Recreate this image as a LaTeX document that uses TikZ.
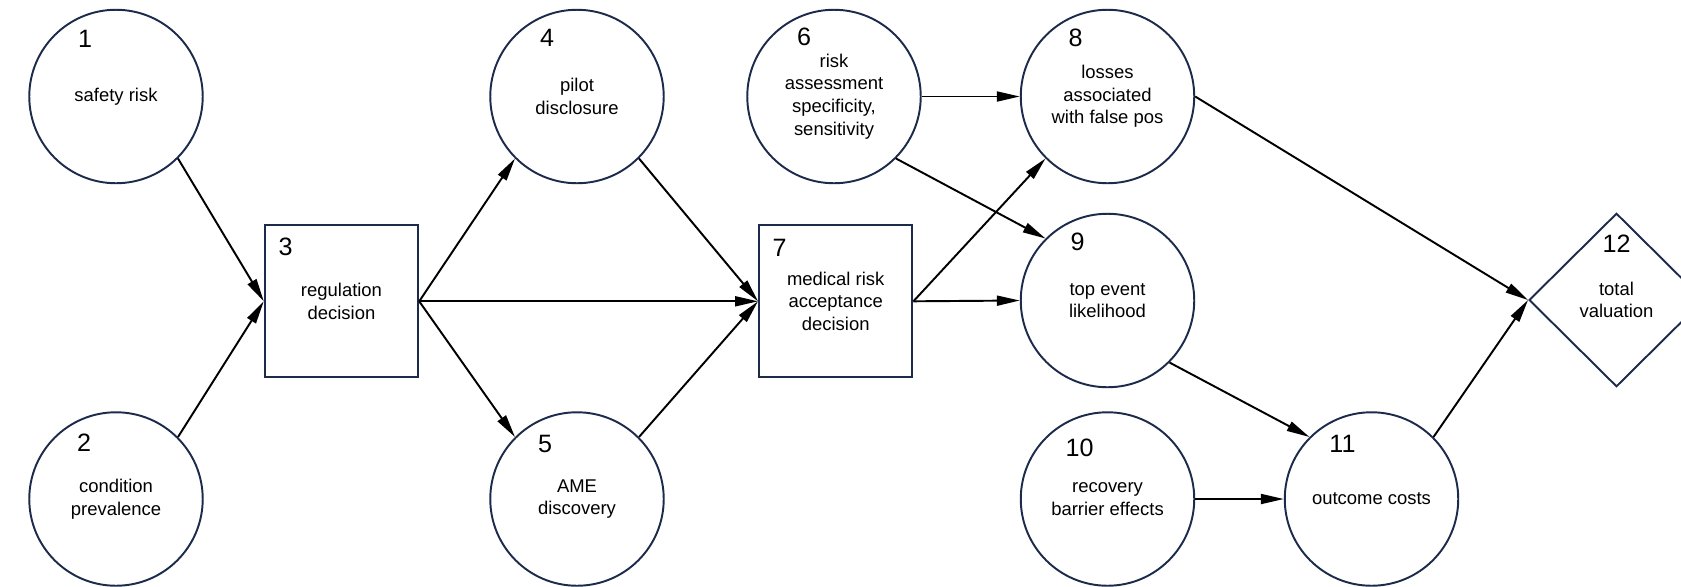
\documentclass[tikz,border=0pt]{standalone}
\usepackage{fontspec}
\setmainfont{Liberation Sans}
\usepackage{xcolor}
\usetikzlibrary{arrows.meta,calc,shapes.geometric}
\definecolor{idNavy}{HTML}{1C2B4B}
\newcommand{\txtfont}{\fontsize{10.5}{12.9}\selectfont}
\newcommand{\numfont}{\fontsize{14.3}{17}\selectfont}

\begin{document}
\begin{tikzpicture}[
  x=0.02cm, y=-0.02cm,
  chance/.style={
    circle, draw=idNavy, line width=1.1pt,
    minimum size=3.47cm, inner sep=0pt, align=center, font=\txtfont
  },
  decision/.style={
    rectangle, draw=idNavy, line width=1.1pt,
    minimum width=3.07cm, minimum height=3.04cm, inner sep=0pt,
    align=center, font=\txtfont
  },
  valuenode/.style={
    diamond, draw=idNavy, line width=1.1pt,
    minimum width=3.5cm, minimum height=3.47cm, inner sep=0pt,
    align=center, font=\txtfont
  },
  num/.style={font=\numfont, inner sep=0pt},
  infl/.style={-{Triangle[length=4.6mm,width=2mm]}, line width=1.1pt}
]
\useasboundingbox (0,0) rectangle (1681,586);

% ---- nodes ----------------------------------------------------------------
\node[chance]    (safety)     at (116,96.5)    {safety risk};
\node[chance]    (prevalence) at (116,499)     {condition\\prevalence};
\node[decision]  (regulation) at (341.5,301.3) {regulation\\decision};
\node[chance]    (disclosure) at (577,96.5)    {pilot\\disclosure};
\node[chance]    (discovery)  at (577,499)     {AME\\discovery};
\node[chance]    (assess)     at (834,96.5)    {risk\\assessment\\specificity,\\sensitivity};
\node[decision]  (acceptance) at (835.7,301.3) {medical risk\\acceptance\\decision};
\node[chance]    (falsepos)   at (1107.5,96.5) {losses\\associated\\with false pos};
\node[chance]    (topevent)   at (1107.5,300.5) {top event\\likelihood};
\node[chance]    (recovery)   at (1107.5,499)  {recovery\\barrier effects};
\node[chance]    (costs)      at (1371.5,499)  {outcome costs};
\node[valuenode] (valuation)  at (1616.5,300)  {total\\valuation};

% ---- numbers --------------------------------------------------------------
\node[num] (n1)  at ($(safety)+(-31,-58)$)     {1};
\node[num] (n2)  at ($(prevalence)+(-32,-56)$) {2};
\node[num] (n3)  at ($(regulation)+(-56,-54)$) {3};
\node[num] (n4)  at ($(disclosure)+(-30,-59)$) {4};
\node[num] (n5)  at ($(discovery)+(-32,-55)$)  {5};
\node[num] (n6)  at ($(assess)+(-30,-60)$)     {6};
\node[num] (n7)  at ($(acceptance)+(-56,-53)$) {7};
\node[num] (n8)  at ($(falsepos)+(-32,-59)$)   {8};
\node[num] (n9)  at ($(topevent)+(-30,-59)$)   {9};
\node[num] (n10) at ($(recovery)+(-28,-51)$)   {10};
\node[num] (n11) at ($(costs)+(-29,-55)$)      {11};
\node[num] (n12) at ($(valuation)+(0,-56)$)    {12};

% ---- arrows ---------------------------------------------------------------
\draw[infl] (safety.south east)     -- (regulation.west);
\draw[infl] (prevalence.north east) -- (regulation.west);
\draw[infl] (regulation.east)       -- (disclosure.south west);
\draw[infl] (regulation.east)       -- (discovery.north west);
\draw[infl] (regulation.east)       -- (acceptance.west);
\draw[infl] (disclosure.south east) -- (acceptance.west);
\draw[infl] (discovery.north east)  -- (acceptance.west);
\draw[infl] (assess.east)           -- (falsepos.west);
\draw[infl] (assess.south east)     -- (topevent.north west);
\draw[infl] (acceptance.east)       -- (falsepos.south west);
\draw[infl] (acceptance.east)       -- (topevent.west);
\draw[infl] (falsepos.east)         -- (valuation.west);
\draw[infl] (topevent.south east)   -- (costs.north west);
\draw[infl] (recovery.east)         -- (costs.west);
\draw[infl] (costs.north east)      -- (valuation.west);

\end{tikzpicture}
\end{document}
